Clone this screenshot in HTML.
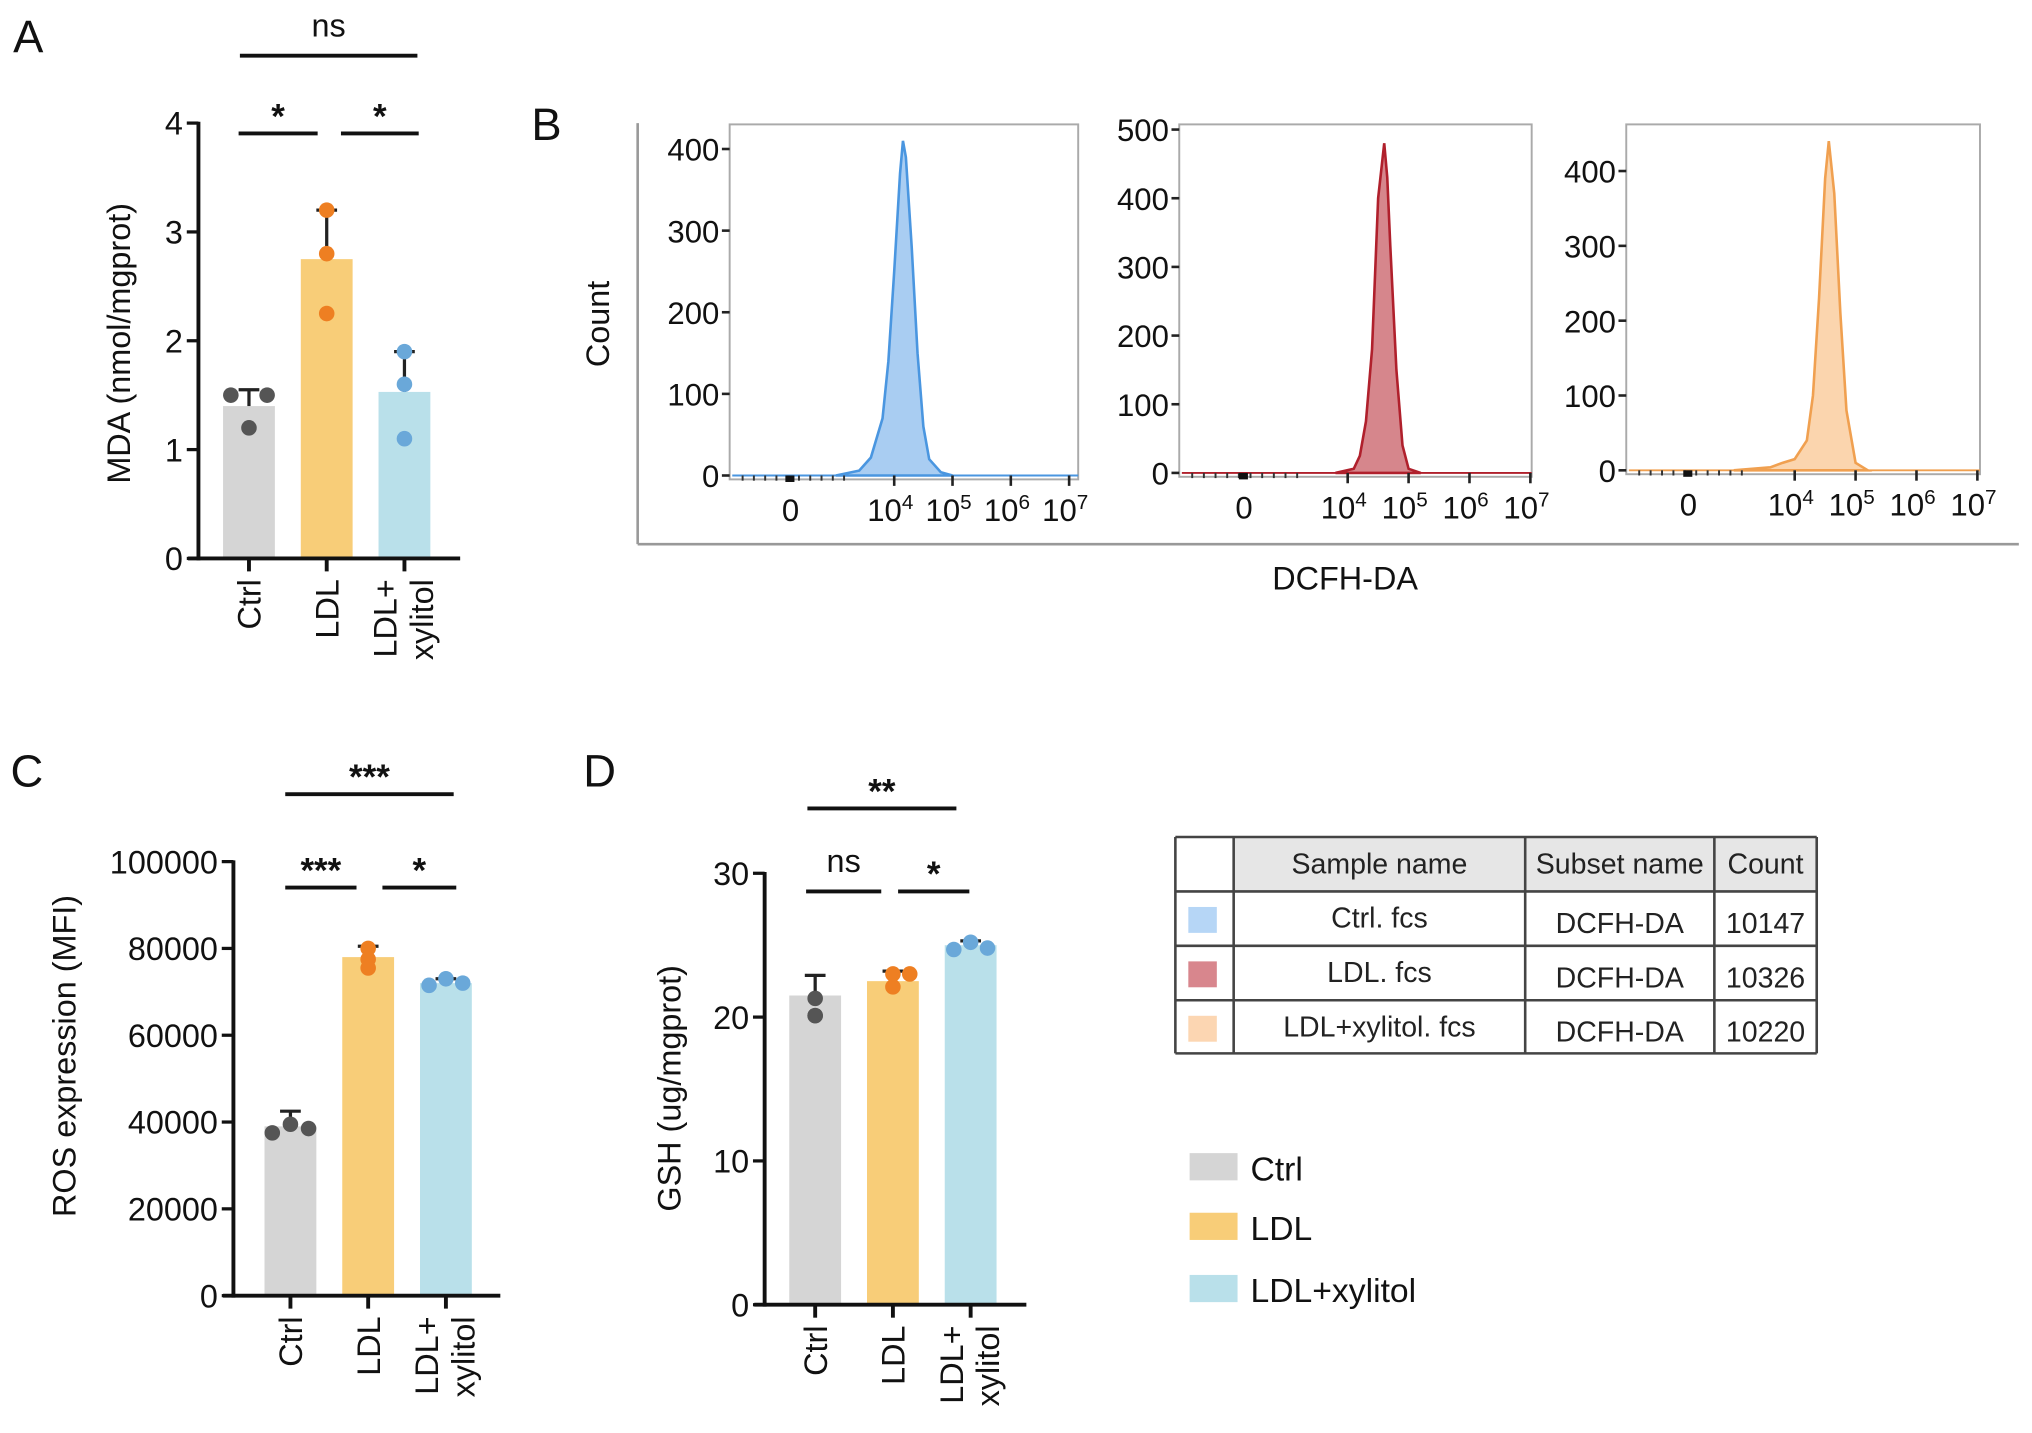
<!DOCTYPE html>
<html><head><meta charset="utf-8"><style>
html,body{margin:0;padding:0;background:#fff;}
svg{display:block;font-family:"Liberation Sans",Arial,sans-serif;}
</style></head><body>
<svg id="fig" width="2032" height="1433" viewBox="0 0 1568 1106" xmlns="http://www.w3.org/2000/svg">
<rect x="0" y="0" width="1568" height="1106" fill="#fff"/>
</svg>
<script>
// ---------- data ----------
const barCategories = ["Ctrl", "LDL", "LDL+ xylitol"];
const mdaMeans = [1.4, 2.75, 1.53];
const mdaErrTop = [1.55, 3.2, 1.9];
const mdaPoints = [[1.5, 1.5, 1.2], [3.2, 2.8, 2.25], [1.9, 1.6, 1.1]];
const mdaTicks = [0, 1, 2, 3, 4];
const rosMeans = [39000, 78000, 72000];
const rosErrTop = [42500, 80500, 73000];
const rosPoints = [[37500, 38500, 39500], [80000, 77500, 75500], [71500, 72000, 73000]];
const rosTicks = [0, 20000, 40000, 60000, 80000, 100000];
const gshMeans = [21.5, 22.5, 25];
const gshErrTop = [22.9, 23.2, 25.3];
const gshPoints = [[21.3, 20.1, 20.1], [22.1, 23, 23], [24.7, 24.8, 25.2]];
const gshTicks = [0, 10, 20, 30];
const histLogs1 = [3.0, 3.4, 3.6, 3.8, 3.9, 4.0, 4.1, 4.15, 4.2, 4.3, 4.4, 4.5, 4.6, 4.8, 5.0];
const histCounts1 = [0, 6, 22, 70, 140, 250, 370, 410, 390, 280, 150, 60, 20, 4, 0];
const histLogs2 = [3.8, 4.1, 4.2, 4.3, 4.4, 4.45, 4.5, 4.55, 4.6, 4.65, 4.7, 4.8, 4.9, 5.0, 5.2];
const histCounts2 = [0, 6, 25, 75, 180, 290, 400, 440, 480, 430, 330, 150, 40, 6, 0];
const histLogs3 = [3.0, 3.6, 3.8, 4.0, 4.2, 4.3, 4.4, 4.5, 4.56, 4.65, 4.75, 4.85, 5.0, 5.2];
const histCounts3 = [0, 4, 10, 15, 40, 100, 230, 390, 440, 370, 210, 80, 10, 0];
const histTicks1 = [0, 100, 200, 300, 400];
const histTicks2 = [0, 100, 200, 300, 400, 500];

const NS = "http://www.w3.org/2000/svg";
const svg = document.getElementById("fig");
function el(tag, attrs, parent, text) {
  const e = document.createElementNS(NS, tag);
  for (const k in attrs) e.setAttribute(k, attrs[k]);
  if (text !== undefined) e.textContent = text;
  (parent || svg).appendChild(e);
  return e;
}
const barFill = ["#d5d5d5", "#f8cd78", "#b9e0ea"];
const dotFill = ["#555555", "#ee7f22", "#6aa8d9"];

function barChart(o) {
  const g = el("g", {});
  
  
  const y = v => o.y0 - (v - o.min) / (o.max - o.min) * (o.y0 - o.y1);
  const xc = i => o.x0 + o.first + i * o.step;
  barCategories.forEach((c, i) => {
    const r = el("rect", {x: xc(i) - 20, y: y(o.means[i]), width: 40, height: o.y0 - y(o.means[i]), fill: barFill[i]}, g);
    
    
    const eb = el("g", {}, g);
    
    
    el("line", {x1: xc(i), x2: xc(i), y1: y(o.means[i]), y2: y(o.errTop[i]), stroke: "#222", "stroke-width": 2.5}, eb);
    el("line", {x1: xc(i) - 8, x2: xc(i) + 8, y1: y(o.errTop[i]), y2: y(o.errTop[i]), stroke: "#222", "stroke-width": 2.5}, eb);
    o.points[i].forEach((p, j) => {
      const ci = el("circle", {cx: xc(i) + o.offs[i][j], cy: y(p), r: 6, fill: dotFill[i]}, g);
      
      
    });
    el("line", {x1: xc(i), x2: xc(i), y1: o.y0, y2: o.y0 + 10, stroke: "#111", "stroke-width": 3}, g);
    const lines = c.split(" ");
    const tl = el("text", {transform: `translate(${xc(i) + (lines.length > 1 ? -6 : 9)},${o.y0 + 16}) rotate(-90)`, "text-anchor": "end", "font-size": 25, fill: "#111"}, g, lines[0]);
    
    
    if (lines.length > 1) {
      const t2 = el("text", {transform: `translate(${xc(i) + 22},${o.y0 + 16}) rotate(-90)`, "text-anchor": "end", "font-size": 25, fill: "#111"}, g, lines[1]);
      
      
    }
  });
  const ax = el("g", {}, g);
  
  
  el("line", {x1: o.x0, x2: o.x0, y1: o.y1 - 1, y2: o.y0 + 1.5, stroke: "#111", "stroke-width": 3}, ax);
  o.ticks.forEach(t => {
    el("line", {x1: o.x0 - 9, x2: o.x0, y1: y(t), y2: y(t), stroke: "#111", "stroke-width": 2.5}, ax);
    el("text", {x: o.x0 - 12, y: y(t) + 9, "text-anchor": "end", "font-size": 25, fill: "#111"}, ax, String(t));
  });
  const xa = el("line", {x1: o.x0 - 8, x2: o.xEnd, y1: o.y0, y2: o.y0, stroke: "#111", "stroke-width": 3}, g);
  
  
  const yt = el("text", {transform: `translate(${o.ylx},${o.yly}) rotate(-90)`, "text-anchor": "middle", "font-size": 25, fill: "#111"}, g, o.ylabel);
  
  
  o.sig.forEach(s => {
    const sg = el("g", {}, g);
    
    
    el("line", {x1: s[0], x2: s[1], y1: s[2], y2: s[2], stroke: "#111", "stroke-width": 3}, sg);
    el("text", {x: (s[0] + s[1]) / 2, y: s[2] - (s[3] === "ns" ? 15 : 4), "text-anchor": "middle", "font-size": s[3] === "ns" ? 25 : 27, "font-weight": s[3] === "ns" ? "normal" : "bold", fill: "#111"}, sg, s[3]);
  });
}

barChart({name: "panel-a-mda-chart", x0: 153, y0: 431, y1: 95, min: 0, max: 4, first: 39, step: 60, xEnd: 355,
  offs: [[-14, 14, 0], [0, 0, 0], [0, 0, 0]],
  means: mdaMeans, errTop: mdaErrTop, points: mdaPoints, ticks: mdaTicks, ylabel: "MDA (nmol/mgprot)", ylx: 100, yly: 265,
  sig: [[184, 245, 103, "*"], [263, 323, 103, "*"], [185, 322, 43, "ns"]]});
barChart({name: "panel-c-ros-chart", x0: 180, y0: 1000, y1: 665, min: 0, max: 100000, first: 44, step: 60, xEnd: 386,
  offs: [[-14, 14, 0], [0, 0, 0], [-13, 13, 0]],
  means: rosMeans, errTop: rosErrTop, points: rosPoints, ticks: rosTicks, ylabel: "ROS expression (MFI)", ylx: 58, yly: 815,
  sig: [[220, 275, 685, "***"], [295, 352, 685, "*"], [220, 350, 613, "***"]]});
barChart({name: "panel-d-gsh-chart", x0: 590, y0: 1007, y1: 674, min: 0, max: 30, first: 39, step: 60, xEnd: 792,
  offs: [[0, 0, 0], [0, 0, 13], [-13, 13, 0]],
  means: gshMeans, errTop: gshErrTop, points: gshPoints, ticks: gshTicks, ylabel: "GSH (ug/mgprot)", ylx: 525, yly: 840,
  sig: [[622, 680, 688, "ns"], [693, 748, 688, "*"], [623, 738, 624, "**"]]});

// ---------- flow histograms ----------
function histo(o) {
  const g = el("g", {});
  
  
  const y = v => o.y0 - v / o.vmax * (o.y0 - o.ytop);
  const x = d => o.x4 + (d - 4) * o.dec;
  el("rect", {x: o.bx, y: 96, width: o.bw, height: o.y0 - 96 + 3, fill: "none", stroke: "#aaa", "stroke-width": 1.5}, g);
  let d = `M${x(o.logs[0])},${o.y0}`;
  o.logs.forEach((l, i) => { d += ` L${x(l)},${y(o.counts[i])}`; });
  d += ` L${x(o.logs[o.logs.length - 1])},${o.y0} Z`;
  const p = el("path", {d: d, fill: o.fill, stroke: o.stroke, "stroke-width": 2}, g);
  
  
  el("line", {x1: o.bx + 2, x2: o.bx + o.bw, y1: o.y0, y2: o.y0, stroke: o.stroke, "stroke-width": 1.5}, g);
  o.ticks.forEach(t => {
    el("line", {x1: o.bx - 6, x2: o.bx, y1: y(t), y2: y(t), stroke: "#222", "stroke-width": 2}, g);
    el("text", {x: o.bx - 8, y: y(t) + 9, "text-anchor": "end", "font-size": 24, fill: "#111"}, g, String(t));
  });
  const xl = el("g", {}, g);
  
  
  el("text", {x: o.x0, y: o.y0 + 35, "text-anchor": "middle", "font-size": 24, fill: "#111"}, xl, "0");
  [4, 5, 6, 7].forEach(e => {
    const t = el("text", {x: x(e) - 3, y: o.y0 + 35, "text-anchor": "middle", "font-size": 24, fill: "#111"}, xl, "10");
    el("tspan", {dy: -9, "font-size": 16}, t, String(e));
    el("line", {x1: x(e), x2: x(e), y1: o.y0, y2: o.y0 + 8, stroke: "#222", "stroke-width": 2}, g);
  });
  for (let k = 0; k < 10; k++) {
    const xx = o.bx + 10 + k * (o.x0 - o.bx + 40) / 10;
    el("line", {x1: xx, x2: xx, y1: o.y0, y2: o.y0 + 4, stroke: "#333", "stroke-width": 1.5}, g);
  }
  el("rect", {x: o.x0 - 4, y: o.y0, width: 7, height: 5, fill: "#111"}, g);
}
histo({name: "histogram-ctrl", bx: 563, bw: 269, y0: 367, ytop: 115, vmax: 400, x4: 690, dec: 45, x0: 610,
  logs: histLogs1, counts: histCounts1, ticks: histTicks1, fill: "#a9cdf2", stroke: "#4a96e0"});
histo({name: "histogram-ldl", bx: 910, bw: 272, y0: 365, ytop: 100, vmax: 500, x4: 1040, dec: 47, x0: 960,
  logs: histLogs2, counts: histCounts2, ticks: histTicks2, fill: "#d6868c", stroke: "#b0202c"});
histo({name: "histogram-ldl-xylitol", bx: 1255, bw: 273, y0: 363, ytop: 132, vmax: 400, x4: 1385, dec: 47, x0: 1303,
  logs: histLogs3, counts: histCounts3, ticks: histTicks1, fill: "#fbd5ae", stroke: "#f0a050"});

el("line", {x1: 492, x2: 492, y1: 95, y2: 420, stroke: "#999", "stroke-width": 2});
el("line", {x1: 492, x2: 1558, y1: 420, y2: 420, stroke: "#999", "stroke-width": 2});
const ct = el("text", {transform: "translate(470,250) rotate(-90)", "text-anchor": "middle", "font-size": 25, fill: "#111"}, svg, "Count");


const dc = el("text", {x: 1038, y: 455, "text-anchor": "middle", "font-size": 25, fill: "#111"}, svg, "DCFH-DA");



[["A", 10, 40], ["B", 410, 108], ["C", 8, 607], ["D", 450, 607]].forEach(l => {
  const t = el("text", {x: l[1], y: l[2], "font-size": 35, fill: "#111"}, svg, l[0]);
  
  
});

// ---------- table ----------
const tableRows = [["Ctrl. fcs", "DCFH-DA", "10147"], ["LDL. fcs", "DCFH-DA", "10326"], ["LDL+xylitol. fcs", "DCFH-DA", "10220"]];
const swatch = ["#b6d6f6", "#d8868d", "#fcd6b2"];
const tg = el("g", {});


const cx = [907, 952, 1177, 1323, 1402], ry = [646, 688, 730, 772, 813];
el("rect", {x: 952, y: 646, width: 450, height: 42, fill: "#e6e6e6"}, tg);
["Sample name", "Subset name", "Count"].forEach((h, i) => {
  el("text", {x: (cx[i + 1] + cx[i + 2]) / 2, y: 674, "text-anchor": "middle", "font-size": 22, fill: "#222"}, tg, h);
});
tableRows.forEach((r, i) => {
  el("rect", {x: 917, y: ry[i + 1] + 12, width: 22, height: 20, fill: swatch[i]}, tg);
  r.forEach((c, j) => {
    el("text", {x: (cx[j + 1] + cx[j + 2]) / 2, y: ry[i + 1] + (j === 0 ? 28 : 32), "text-anchor": "middle", "font-size": 22, fill: "#222"}, tg, c);
  });
});
cx.forEach(x => el("line", {x1: x, x2: x, y1: 646, y2: 813, stroke: "#444", "stroke-width": 2}, tg));
ry.forEach(y => el("line", {x1: 907, x2: 1402, y1: y, y2: y, stroke: "#444", "stroke-width": 2}, tg));

// ---------- legend ----------
const legendLabels = ["Ctrl", "LDL", "LDL+xylitol"];
const legendY = [901, 947, 995];
legendLabels.forEach((l, i) => {
  const lg = el("g", {});
  
  
  el("rect", {x: 918, y: legendY[i] - 11, width: 37, height: 21, fill: barFill[i]}, lg);
  el("text", {x: 965, y: legendY[i] + 10, "font-size": 26, fill: "#111"}, lg, l);
});
</script>
</body></html>
